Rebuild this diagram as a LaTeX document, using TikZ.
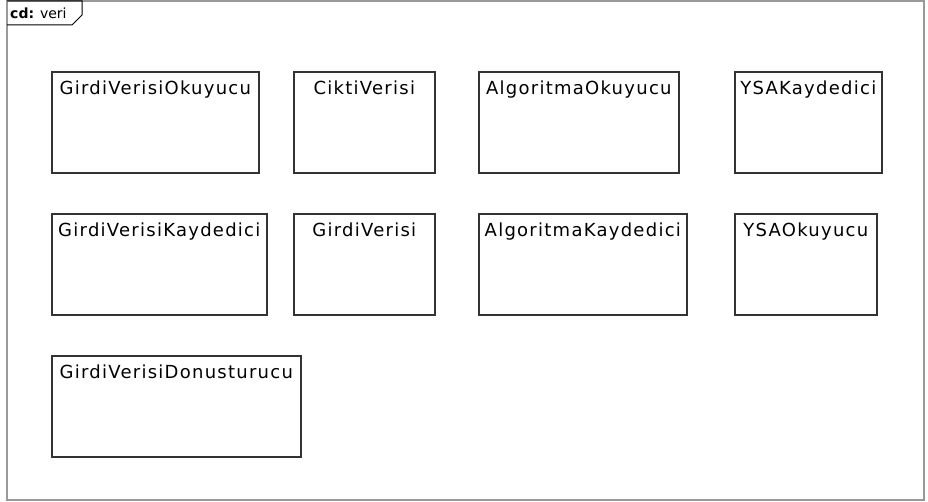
\documentclass[tikz,border=0pt]{standalone}
\usepackage{fontspec}
\setmainfont{DejaVu Sans}
\newfontfamily\classfont[LetterSpace=7]{DejaVu Sans}
\begin{document}
\begin{tikzpicture}[x=1pt, y=-1pt,
	frame/.style={draw=black!40, line width=1.6pt},
	classbox/.style={draw=black!80, line width=1.6pt, anchor=north west,
		inner xsep=0pt, inner ysep=4pt, text height=19pt, text depth=74pt,
		font=\classfont\fontsize{18}{21}\selectfont}]
	\useasboundingbox (0,0) rectangle (928,502);
	\draw[frame] (7,1) rectangle (924,500);
	\draw[line width=1pt] (7,1) -- (82,1) -- (82,15) -- (72,25) -- (7,25);
	\node[anchor=base west, inner sep=0pt, font=\fontsize{14}{16}\selectfont] (tab) at (10,19) {\textbf{cd:} veri};
	% first row
	\node[classbox, minimum width=207pt] (gvOkuyucu) at (51,71) {GirdiVerisiOkuyucu};
	\node[classbox, minimum width=141pt] (cVeri) at (293,71) {CiktiVerisi};
	\node[classbox, minimum width=200pt] (aOkuyucu) at (478,71) {AlgoritmaOkuyucu};
	\node[classbox, minimum width=147pt] (ysaKaydedici) at (734,71) {YSAKaydedici};
	% second row
	\node[classbox, minimum width=215pt] (gvKaydedici) at (51,213) {GirdiVerisiKaydedici};
	\node[classbox, minimum width=141pt] (gVeri) at (293,213) {GirdiVerisi};
	\node[classbox, minimum width=208pt] (aKaydedici) at (478,213) {AlgoritmaKaydedici};
	\node[classbox, minimum width=142pt] (ysaOkuyucu) at (734,213) {YSAOkuyucu};
	% third row
	\node[classbox, minimum width=249pt] (gvDonusturucu) at (51,355) {GirdiVerisiDonusturucu};
\end{tikzpicture}
\end{document}
